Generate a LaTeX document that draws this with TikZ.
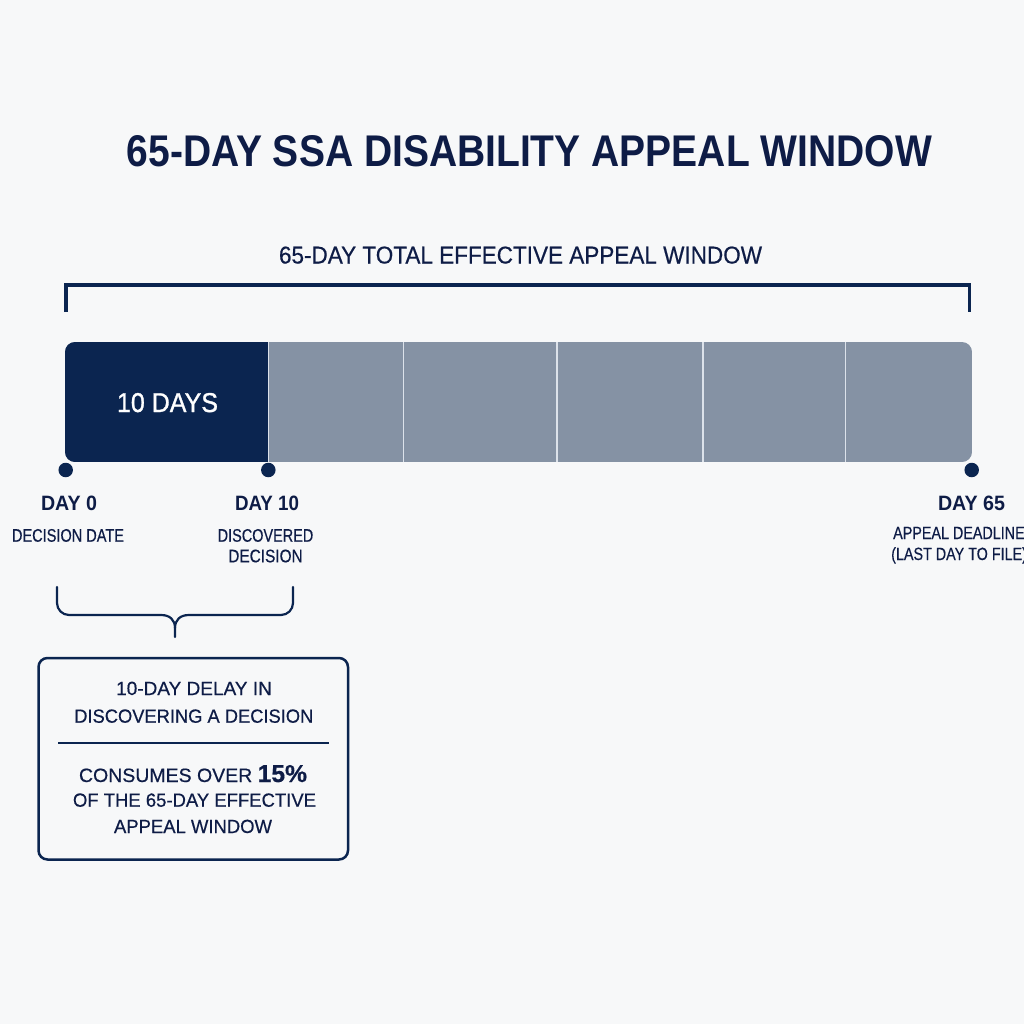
\documentclass[tikz,border=0pt]{standalone}
\usepackage{fontspec}
\setmainfont{Liberation Sans}
\newfontfamily\medfont{Liberation Sans}[FakeBold=0.5]
\newfontfamily\semifont{Liberation Sans}[FakeBold=1.2]
\usepackage{graphicx}
\definecolor{bg}{HTML}{F7F8F9}
\definecolor{navy}{HTML}{0B2550}
\definecolor{ink}{HTML}{0E1C46}
\definecolor{slate}{HTML}{8592A4}
\definecolor{sep}{HTML}{DCE2EA}
\newcommand{\fitbox}[3]{\resizebox{#1pt}{#2pt}{#3}}
\begin{document}
\begin{tikzpicture}[x=1pt,y=-1pt,
  txt/.style={inner sep=0pt, anchor=base, text=ink},
  ltxt/.style={inner sep=0pt, anchor=base west, text=ink},
  dot/.style={circle, fill=navy, inner sep=0pt, minimum size=14.5pt},
  rule/.style={draw=navy, line width=3.2pt},
  brace/.style={draw=navy, line width=2.2pt, line cap=round, line join=round},
  sepline/.style={draw=sep, line width=1.4pt}]
\useasboundingbox (0,0) rectangle (1024,1024);
\fill[bg] (0,0) rectangle (1024,1024);

% title
\node[txt] (title) at (529.5,167) {\fitbox{805}{31}{\bfseries 65-DAY SSA DISABILITY APPEAL WINDOW}};
\node[txt] (subtitle) at (520.5,263.5) {\fitbox{483}{17}{\medfont 65-DAY TOTAL EFFECTIVE APPEAL WINDOW}};

% top bracket
\coordinate (bl) at (66,312);
\coordinate (br) at (969.5,312);
\draw[rule, line cap=butt] (bl) |- (969.5,285) -- (br);

% bar
\begin{scope}
  \clip[rounded corners=10pt] (65,342) rectangle (972,462);
  \fill[slate] (65,342) rectangle (972,462);
  \fill[navy] (65,342) rectangle (267.5,462);
\end{scope}
\node[inner sep=0pt] (bar) at (518.5,402) [minimum width=907pt, minimum height=120pt] {};
\foreach \xx in {268.5,403.3,557,703,845.7}{
  \draw[sepline] (\xx,342) -- (\xx,462);
}
\node[txt, text=white] (tendays) at (167.5,412) {\fitbox{101}{19}{\semifont 10 DAYS}};

% dots
\node[dot] (d0) at (65.7,470) {};
\node[dot] (d10) at (268.3,470) {};
\node[dot] (d65) at (971.7,470) {};

% labels
\node[txt] (l0) at (69,510.5) {\fitbox{56}{14.5}{\bfseries DAY 0}};
\node[txt] (l0s) at (68,541.7) {\fitbox{112}{12.7}{\medfont DECISION DATE}};
\node[txt] (l10) at (267,510.5) {\fitbox{64}{14.5}{\bfseries DAY 10}};
\node[txt] (l10a) at (265.5,541.7) {\fitbox{95.6}{12.7}{\medfont DISCOVERED}};
\node[txt] (l10b) at (265.5,562.3) {\fitbox{74.4}{12.7}{\medfont DECISION}};
\node[txt] (l65) at (971.5,510) {\fitbox{67}{14.5}{\bfseries DAY 65}};
\node[ltxt] (l65a) at (893,539) {\scalebox{0.81}[1]{\fontsize{17.7pt}{20pt}\medfont APPEAL DEADLINE}};
\node[ltxt] (l65b) at (891,560) {\scalebox{0.81}[1]{\fontsize{17.7pt}{20pt}\medfont (LAST DAY TO FILE)}};

% curly brace
\coordinate (bra) at (57,587);
\coordinate (brb) at (293,587);
\coordinate (tip) at (175,637);
\draw[brace] (bra) -- (57,603) arc[start angle=180, end angle=270, radius=12pt]
  -- (161,615) .. controls (170,615) and (175,620) .. (175,628) -- (tip);
\draw[brace] (brb) -- (293,603) arc[start angle=0, end angle=-90, radius=12pt]
  -- (189,615) .. controls (180,615) and (175,620) .. (175,628);

% callout box
\node[draw=navy, line width=2.5pt, rounded corners=9pt, inner sep=0pt,
  minimum width=309.5pt, minimum height=201.5pt] (box) at (193.25,758.75) {};
\node[txt] (c1) at (194,695) {\fitbox{155.7}{13.3}{\medfont 10-DAY DELAY IN}};
\node[txt] (c2) at (193.8,722.7) {\fitbox{239}{13.3}{\medfont DISCOVERING A DECISION}};
\coordinate (dl) at (58.3,743);
\coordinate (dr) at (329.3,743);
\draw[draw=navy, line width=2pt] (dl) -- (dr);
\node[txt] (c3) at (193,782) {\fitbox{228}{17}{\fontsize{19pt}{22pt}\medfont CONSUMES OVER \fontsize{24pt}{26pt}\selectfont\bfseries 15\%}};
\node[txt] (c4) at (194.5,806.7) {\fitbox{243}{13.3}{\medfont OF THE 65-DAY EFFECTIVE}};
\node[txt] (c5) at (193,833) {\fitbox{158}{13.3}{\medfont APPEAL WINDOW}};
\end{tikzpicture}
\end{document}
